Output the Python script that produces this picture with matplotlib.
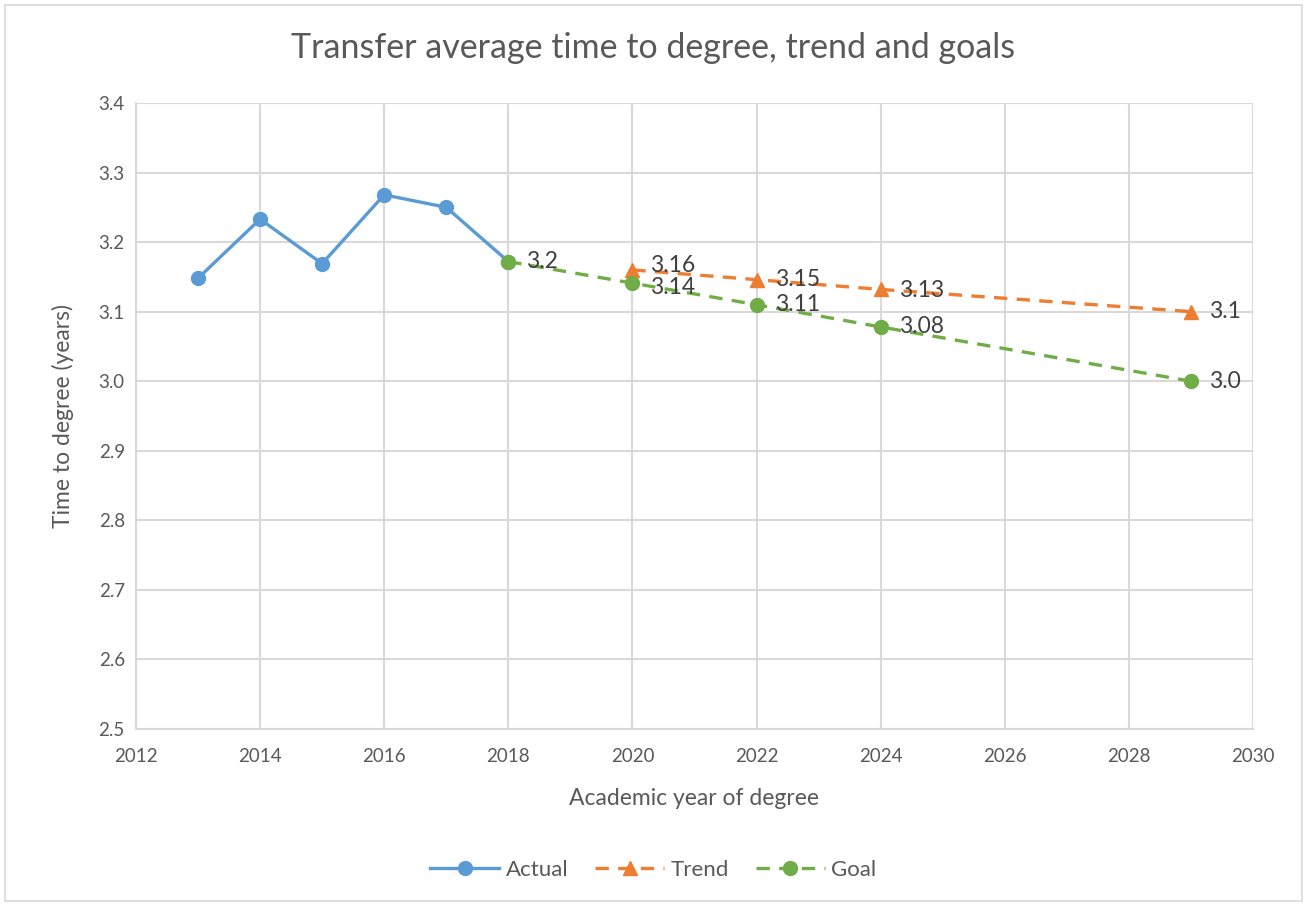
import matplotlib
matplotlib.use("Agg")
import matplotlib.pyplot as plt
from matplotlib.patches import Rectangle

plt.rcParams['font.family'] = ['Lato', 'DejaVu Sans']

actual_years = [2013, 2014, 2015, 2016, 2017, 2018]
actual_vals = [3.148, 3.233, 3.169, 3.268, 3.250, 3.172]

trend_years = [2020, 2022, 2024, 2029]
trend_vals = [3.16, 3.146, 3.132, 3.10]
trend_labels = ["3.16", "3.15", "3.13", "3.1"]

goal_years = [2018, 2020, 2022, 2024, 2029]
goal_vals = [3.172, 3.141, 3.110, 3.078, 3.00]
goal_labels = ["3.2", "3.14", "3.11", "3.08", "3.0"]

x_ticks = [2012, 2014, 2016, 2018, 2020, 2022, 2024, 2026, 2028, 2030]
y_ticks = [2.5, 2.6, 2.7, 2.8, 2.9, 3.0, 3.1, 3.2, 3.3, 3.4]

BLUE = "#5B9BD5"
ORANGE = "#ED7D31"
GREEN = "#70AD47"
TXT = "#595959"
GRID = "#D9D9D9"

fig = plt.figure(figsize=(13.07, 9.05), dpi=100)
fig.patches.append(Rectangle((0.004, 0.004), 0.992, 0.99, transform=fig.transFigure,
                             fill=False, edgecolor=GRID, linewidth=1.2))
ax = fig.add_axes([0.104, 0.1945, 0.8547, 0.6917])

ax.plot(actual_years, actual_vals, color=BLUE, lw=2.4, marker='o', ms=10, label="Actual", zorder=3)
ax.plot(trend_years, trend_vals, color=ORANGE, lw=2.4, ls=(0, (4, 2.8)), marker='^', ms=10,
        label="Trend", zorder=3)
ax.plot(goal_years, goal_vals, color=GREEN, lw=2.4, ls=(0, (4, 2.8)), marker='o', ms=10,
        label="Goal", zorder=4)

# small vertical nudges (points) to keep crowded labels readable
trend_dy = [3, 0, -1, 0]
goal_dy = [0, -3, 0, 0, 0]
for x, y, t, dy in zip(trend_years, trend_vals, trend_labels, trend_dy):
    ax.annotate(t, (x, y), xytext=(13, dy), textcoords='offset points', va='center',
                ha='left', fontsize=16.5, color="#404040", zorder=5)
for x, y, t, dy in zip(goal_years, goal_vals, goal_labels, goal_dy):
    ax.annotate(t, (x, y), xytext=(13, dy), textcoords='offset points', va='center',
                ha='left', fontsize=16.5, color="#404040", zorder=5)

ax.set_xlim(2012, 2030)
ax.set_ylim(2.5, 3.4)
ax.set_xticks(x_ticks)
ax.set_yticks(y_ticks)
ax.set_yticklabels([f"{v:.1f}" for v in y_ticks])
ax.grid(True, color=GRID, lw=1.5)
ax.set_axisbelow(True)
for s in ["top", "right"]:
    ax.spines[s].set_visible(False)
for s in ["left", "bottom"]:
    ax.spines[s].set_color(GRID)
    ax.spines[s].set_linewidth(1.5)
ax.tick_params(axis='x', length=0, labelsize=13.5, colors=TXT, pad=14)
ax.tick_params(axis='y', length=0, labelsize=13.5, colors=TXT, pad=8)

ax.set_xlabel("Academic year of degree", fontsize=16.5, color=TXT, labelpad=16)
ax.set_ylabel("Time to degree (years)", fontsize=16.5, color=TXT, labelpad=18)
fig.text(0.5, 1 - 48 / 905, "Transfer average time to degree, trend and goals",
         ha='center', va='center', fontsize=24.5, color=TXT)

leg = fig.legend(loc='center', bbox_to_anchor=(0.5, 1 - 870 / 905), ncol=3, frameon=False,
                 fontsize=16, handlelength=3.1, columnspacing=1.2, handletextpad=0.3,
                 labelcolor=TXT)

fig.savefig("out.png", dpi=100)
